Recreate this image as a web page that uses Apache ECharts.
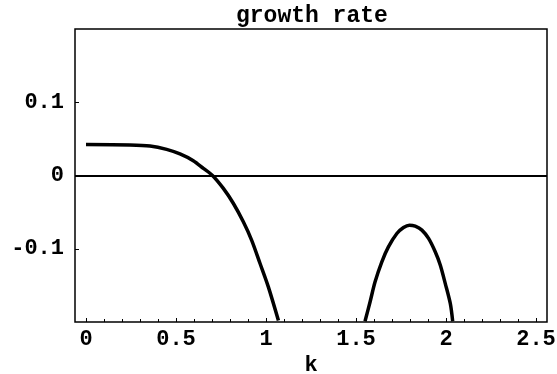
<!DOCTYPE html>
<html>
<head>
<meta charset="utf-8">
<script src="https://cdn.jsdelivr.net/npm/echarts@6/dist/echarts.min.js"></script>
<style>html,body{margin:0;padding:0;background:#fff;}#c{width:557px;height:374px;}</style>
</head>
<body>
<div id="c"></div>
<script>
// Data
const titleText = 'growth rate';
const xName = 'k';
const branch1K = [0, 0.244, 0.356, 0.448, 0.522, 0.596, 0.652, 0.704, 0.763, 0.819, 0.874, 0.920, 0.967, 1.013, 1.069];
const branch1Rate = [0.0425, 0.042, 0.0406, 0.036, 0.0297, 0.0205, 0.010, 0, -0.0174, -0.038, -0.063, -0.088, -0.120, -0.152, -0.198];
const branch2K = [1.550, 1.578, 1.606, 1.643, 1.680, 1.727, 1.764, 1.797, 1.829, 1.866, 1.903, 1.940, 1.968, 1.996, 2.024, 2.037];
const branch2Rate = [-0.199, -0.1726, -0.145, -0.118, -0.0973, -0.079, -0.0708, -0.0676, -0.069, -0.0744, -0.0858, -0.104, -0.122, -0.1475, -0.175, -0.199];
const xMajorTicks = [0, 0.5, 1, 1.5, 2, 2.5];
const xTickLabels = ['0', '0.5', '1', '1.5', '2', '2.5'];
const xMinorTicks = [0.1, 0.2, 0.3, 0.4, 0.6, 0.7, 0.8, 0.9, 1.1, 1.2, 1.3, 1.4, 1.6, 1.7, 1.8, 1.9, 2.1, 2.2, 2.3, 2.4];
const yTicks = [-0.1, 0, 0.1];
const yTickLabels = ['-0.1', '0', '0.1'];

const pair = (xs, ys) => xs.map((x, i) => [x, ys[i]]);
const font = 'Liberation Mono';
const lab = (vals, labels) => (v) => {
  for (let i = 0; i < vals.length; i++) if (Math.abs(vals[i] - v) < 1e-9) return labels[i];
  return '';
};

const chart = echarts.init(document.getElementById('c'), null, {renderer: 'canvas'});
chart.setOption({
  animation: false,
  backgroundColor: '#fff',
  title: {
    text: titleText, left: 231, top: 0,
    textStyle: {fontFamily: font, fontWeight: 'bold', fontSize: 23, color: '#000'}
  },
  grid: {left: 75, right: 10, top: 29, bottom: 52, show: true, borderColor: '#000', borderWidth: 1.5,
    backgroundColor: 'transparent', containLabel: false, outerBoundsMode: 'none'},
  xAxis: [{
    type: 'value', min: -0.061, max: 2.561,
    name: xName, nameLocation: 'middle', nameGap: 29,
    nameTextStyle: {fontFamily: font, fontWeight: 'bold', fontSize: 22, color: '#000'},
    axisLine: {show: false, onZero: false},
    splitLine: {show: false},
    axisTick: {show: true, inside: true, length: 4, customValues: xMajorTicks, lineStyle: {color: '#000', width: 1}},
    axisLabel: {show: true, customValues: xMajorTicks, formatter: lab(xMajorTicks, xTickLabels), margin: 6,
      fontFamily: font, fontWeight: 'bold', fontSize: 22, color: '#000'}
  }, {
    type: 'value', min: -0.061, max: 2.561, position: 'bottom', gridIndex: 0,
    axisLine: {show: false, onZero: false}, splitLine: {show: false},
    axisTick: {show: true, inside: true, length: 3, customValues: xMinorTicks, lineStyle: {color: '#000', width: 1}},
    axisLabel: {show: false}
  }],
  yAxis: {
    type: 'value', min: -0.2, max: 0.2005,
    axisLine: {show: false, onZero: false},
    splitLine: {show: false},
    axisTick: {show: true, inside: true, length: 4, customValues: yTicks, lineStyle: {color: '#000', width: 1}},
    axisLabel: {show: true, customValues: yTicks, formatter: lab(yTicks, yTickLabels), margin: 11,
      fontFamily: font, fontWeight: 'bold', fontSize: 22, color: '#000'}
  },
  series: [{
    type: 'line', data: pair(branch1K, branch1Rate), smooth: 0.3, showSymbol: false, clip: true,
    lineStyle: {color: '#000', width: 3.5},
    markLine: {silent: true, symbol: ['none', 'none'], label: {show: false},
      lineStyle: {color: '#000', width: 2, type: 'solid'}, data: [{yAxis: 0}]}
  }, {
    type: 'line', data: pair(branch2K, branch2Rate), smooth: 0.3, showSymbol: false, clip: true,
    lineStyle: {color: '#000', width: 3.5}
  }]
});
</script>
</body>
</html>
